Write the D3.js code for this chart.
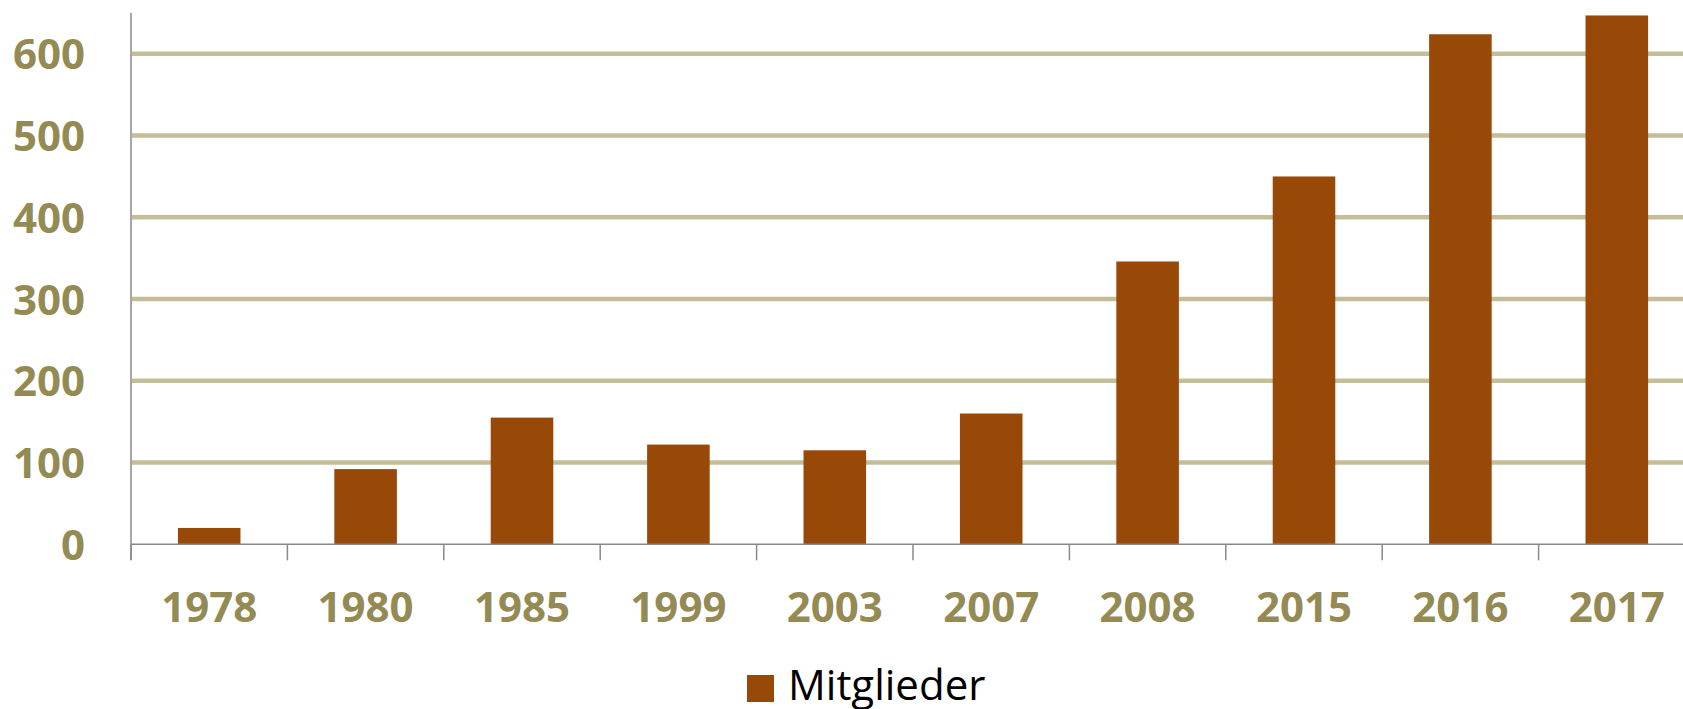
<!DOCTYPE html>
<html>
<head>
<meta charset="utf-8">
<script src="https://cdn.jsdelivr.net/npm/d3@7"></script>
<style>
  body { margin: 0; background: #fff; }
  svg { display: block; }
</style>
</head>
<body>
<svg></svg>
<script>
const years = ["1978", "1980", "1985", "1999", "2003", "2007", "2008", "2015", "2016", "2017"];
const mitglieder = [20, 92, 155, 122, 115, 160, 346, 450, 624, 647];
const yTicks = [0, 100, 200, 300, 400, 500, 600];
const seriesName = "Mitglieder";

const w = 1683;
const h = 709;
const left = 131;
const zeroY = 544.3;
const topY = 13;

const barColor = "#984807";
const labelColor = "#948a54";
const gridColor = "#c4bd97";
const axisColor = "#898989";
const font = "'Open Sans', sans-serif";

let svg = d3.select("svg")
    .attr("width", w)
    .attr("height", h);

let xScale = d3.scaleBand()
    .domain(years)
    .range([left, left + 10 * 156.4])
    .paddingInner(0.6)
    .paddingOuter(0.3);

let yScale = d3.scaleLinear()
    .domain([0, 650])
    .range([zeroY, topY]);

// gridlines
svg.append("g")
   .selectAll("line")
   .data(yTicks.filter(d => d > 0))
   .enter()
   .append("line")
   .attr("x1", left + 1)
   .attr("x2", w)
   .attr("y1", d => yScale(d))
   .attr("y2", d => yScale(d))
   .attr("stroke", gridColor)
   .attr("stroke-width", 4.5);

// bars
svg.selectAll("rect.bar")
   .data(years)
   .enter()
   .append("rect")
   .attr("class", "bar")
   .attr("x", d => xScale(d))
   .attr("width", xScale.bandwidth())
   .attr("y", (d, i) => yScale(mitglieder[i]))
   .attr("height", (d, i) => zeroY - yScale(mitglieder[i]))
   .attr("fill", barColor);

// y axis
let yAxis = d3.axisLeft(yScale)
    .tickValues(yTicks)
    .tickSize(0)
    .tickPadding(46);

let gy = svg.append("g")
    .attr("transform", `translate(${left}, 0)`)
    .call(yAxis);
gy.select(".domain").remove();
gy.append("line")
  .attr("x1", 0).attr("x2", 0)
  .attr("y1", topY).attr("y2", zeroY + 16)
  .attr("stroke", axisColor)
  .attr("stroke-width", 1.5);
gy.selectAll("text")
  .attr("fill", labelColor)
  .attr("font-family", font)
  .attr("font-weight", 700)
  .attr("font-size", 42)
  .attr("dy", "0.36em");

// x axis
let gx = svg.append("g")
    .attr("transform", `translate(0, ${zeroY})`);

gx.append("line")
  .attr("x1", left).attr("x2", w)
  .attr("y1", 0).attr("y2", 0)
  .attr("stroke", axisColor)
  .attr("stroke-width", 1.5);

gx.selectAll("line.tick")
  .data(years)
  .enter()
  .append("line")
  .attr("class", "tick")
  .attr("x1", d => xScale(d) - xScale.step() * 0.3)
  .attr("x2", d => xScale(d) - xScale.step() * 0.3)
  .attr("y1", 0)
  .attr("y2", 16)
  .attr("stroke", axisColor)
  .attr("stroke-width", 1.5);

gx.selectAll("text")
  .data(years)
  .enter()
  .append("text")
  .attr("x", d => xScale(d) + xScale.bandwidth() / 2)
  .attr("y", 77.5)
  .attr("text-anchor", "middle")
  .attr("fill", labelColor)
  .attr("font-family", font)
  .attr("font-weight", 700)
  .attr("font-size", 42)
  .text(d => d);

// legend
let legend = svg.append("g");
legend.append("rect")
      .attr("x", 747)
      .attr("y", 675)
      .attr("width", 27)
      .attr("height", 27)
      .attr("fill", barColor);
legend.append("text")
      .attr("x", 788)
      .attr("y", 700)
      .attr("fill", "#000")
      .attr("font-family", font)
      .attr("font-size", 42)
      .text(seriesName);
</script>
</body>
</html>
